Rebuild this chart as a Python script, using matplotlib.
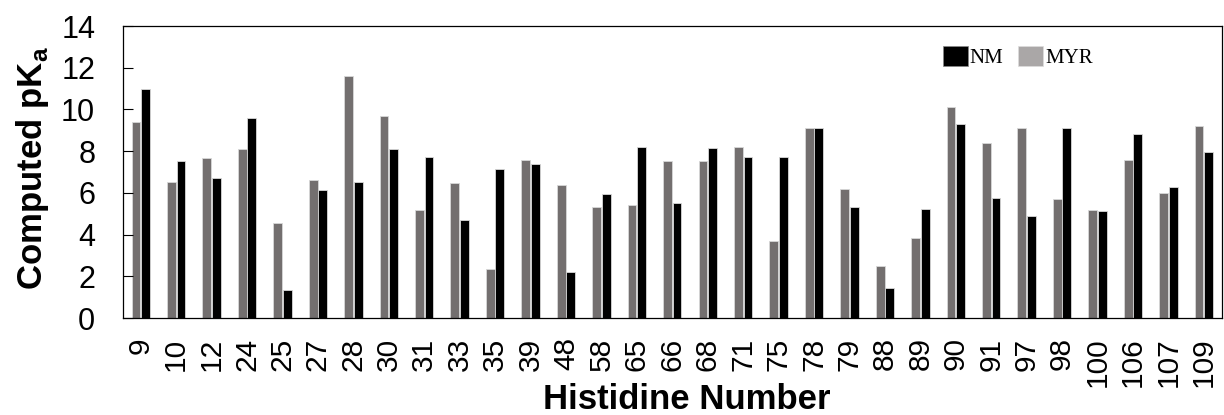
import matplotlib.pyplot as plt
import numpy as np
from matplotlib.patches import Patch

plt.rcParams['font.family'] = ['Liberation Sans', 'DejaVu Sans']
plt.rcParams['mathtext.fontset'] = 'custom'
plt.rcParams['mathtext.rm'] = 'Liberation Sans'
plt.rcParams['mathtext.bf'] = 'Liberation Sans:bold'

# data
histidines = ['9', '10', '12', '24', '25', '27', '28', '30', '31', '33',
              '35', '39', '48', '58', '65', '66', '68', '71', '75', '78',
              '79', '88', '89', '90', '91', '97', '98', '100', '106', '107', '109']
myr = [9.40, 6.51, 7.65, 8.08, 4.57, 6.64, 11.61, 9.67, 5.19, 6.47,
       2.36, 7.58, 6.39, 5.32, 5.44, 7.52, 7.52, 8.22, 3.69, 9.12,
       6.19, 2.49, 3.82, 10.11, 8.40, 9.12, 5.70, 5.19, 7.58, 6.00, 9.23]
nm = [10.98, 7.52, 6.70, 9.61, 1.36, 6.15, 6.51, 8.08, 7.71, 4.69,
      7.14, 7.39, 2.23, 5.95, 8.22, 5.51, 8.16, 7.71, 7.71, 9.12,
      5.32, 1.42, 5.25, 9.29, 5.76, 4.88, 9.12, 5.12, 8.84, 6.26, 7.97]

fig = plt.figure(figsize=(12.24, 4.15), dpi=100)
ax = fig.add_axes([0.1005, 0.2337, 0.8975, 0.7036])

x = np.arange(len(histidines))
w = 0.25
ax.bar(x - 0.135, myr, w, color='#736f6f', edgecolor='#d8d8d8', linewidth=0.6)
ax.bar(x + 0.135, nm, w, color='black', edgecolor='#d8d8d8', linewidth=0.6)

ax.set_xlim(-0.5, len(histidines) - 0.5)
ax.set_ylim(0, 14)
ax.set_yticks(np.arange(0, 15, 2))
ax.set_xticks(x)
ax.set_xticklabels(histidines, rotation=90, fontsize=21.5)
ax.tick_params(axis='x', length=0, pad=14)
ax.tick_params(axis='y', direction='in', length=7.5, width=0.8, labelsize=22, pad=20)
for s in ax.spines.values():
    s.set_linewidth(0.9)

ax.set_ylabel(r'Computed pK$_\mathregular{a}$', fontsize=25, fontweight='bold')
ax.yaxis.set_label_coords(-0.066, 0.515)
ax.set_xlabel('Histidine Number', fontsize=25, fontweight='bold')
ax.xaxis.set_label_coords(0.513, -0.222)

handles = [Patch(facecolor='black', edgecolor='#888888', linewidth=0.5),
           Patch(facecolor='#aaa7a7', edgecolor='#dddddd', linewidth=0.5)]
ax.legend(handles, ['NM', 'MYR'], ncol=2, frameon=False,
          prop={'family': 'Liberation Serif', 'size': 15},
          loc='center left', bbox_to_anchor=(0.746, 0.893),
          handlelength=1.2, handleheight=1.1, handletextpad=0.1,
          columnspacing=0.7, borderpad=0, borderaxespad=0)

fig.savefig('out.png', dpi=100)
